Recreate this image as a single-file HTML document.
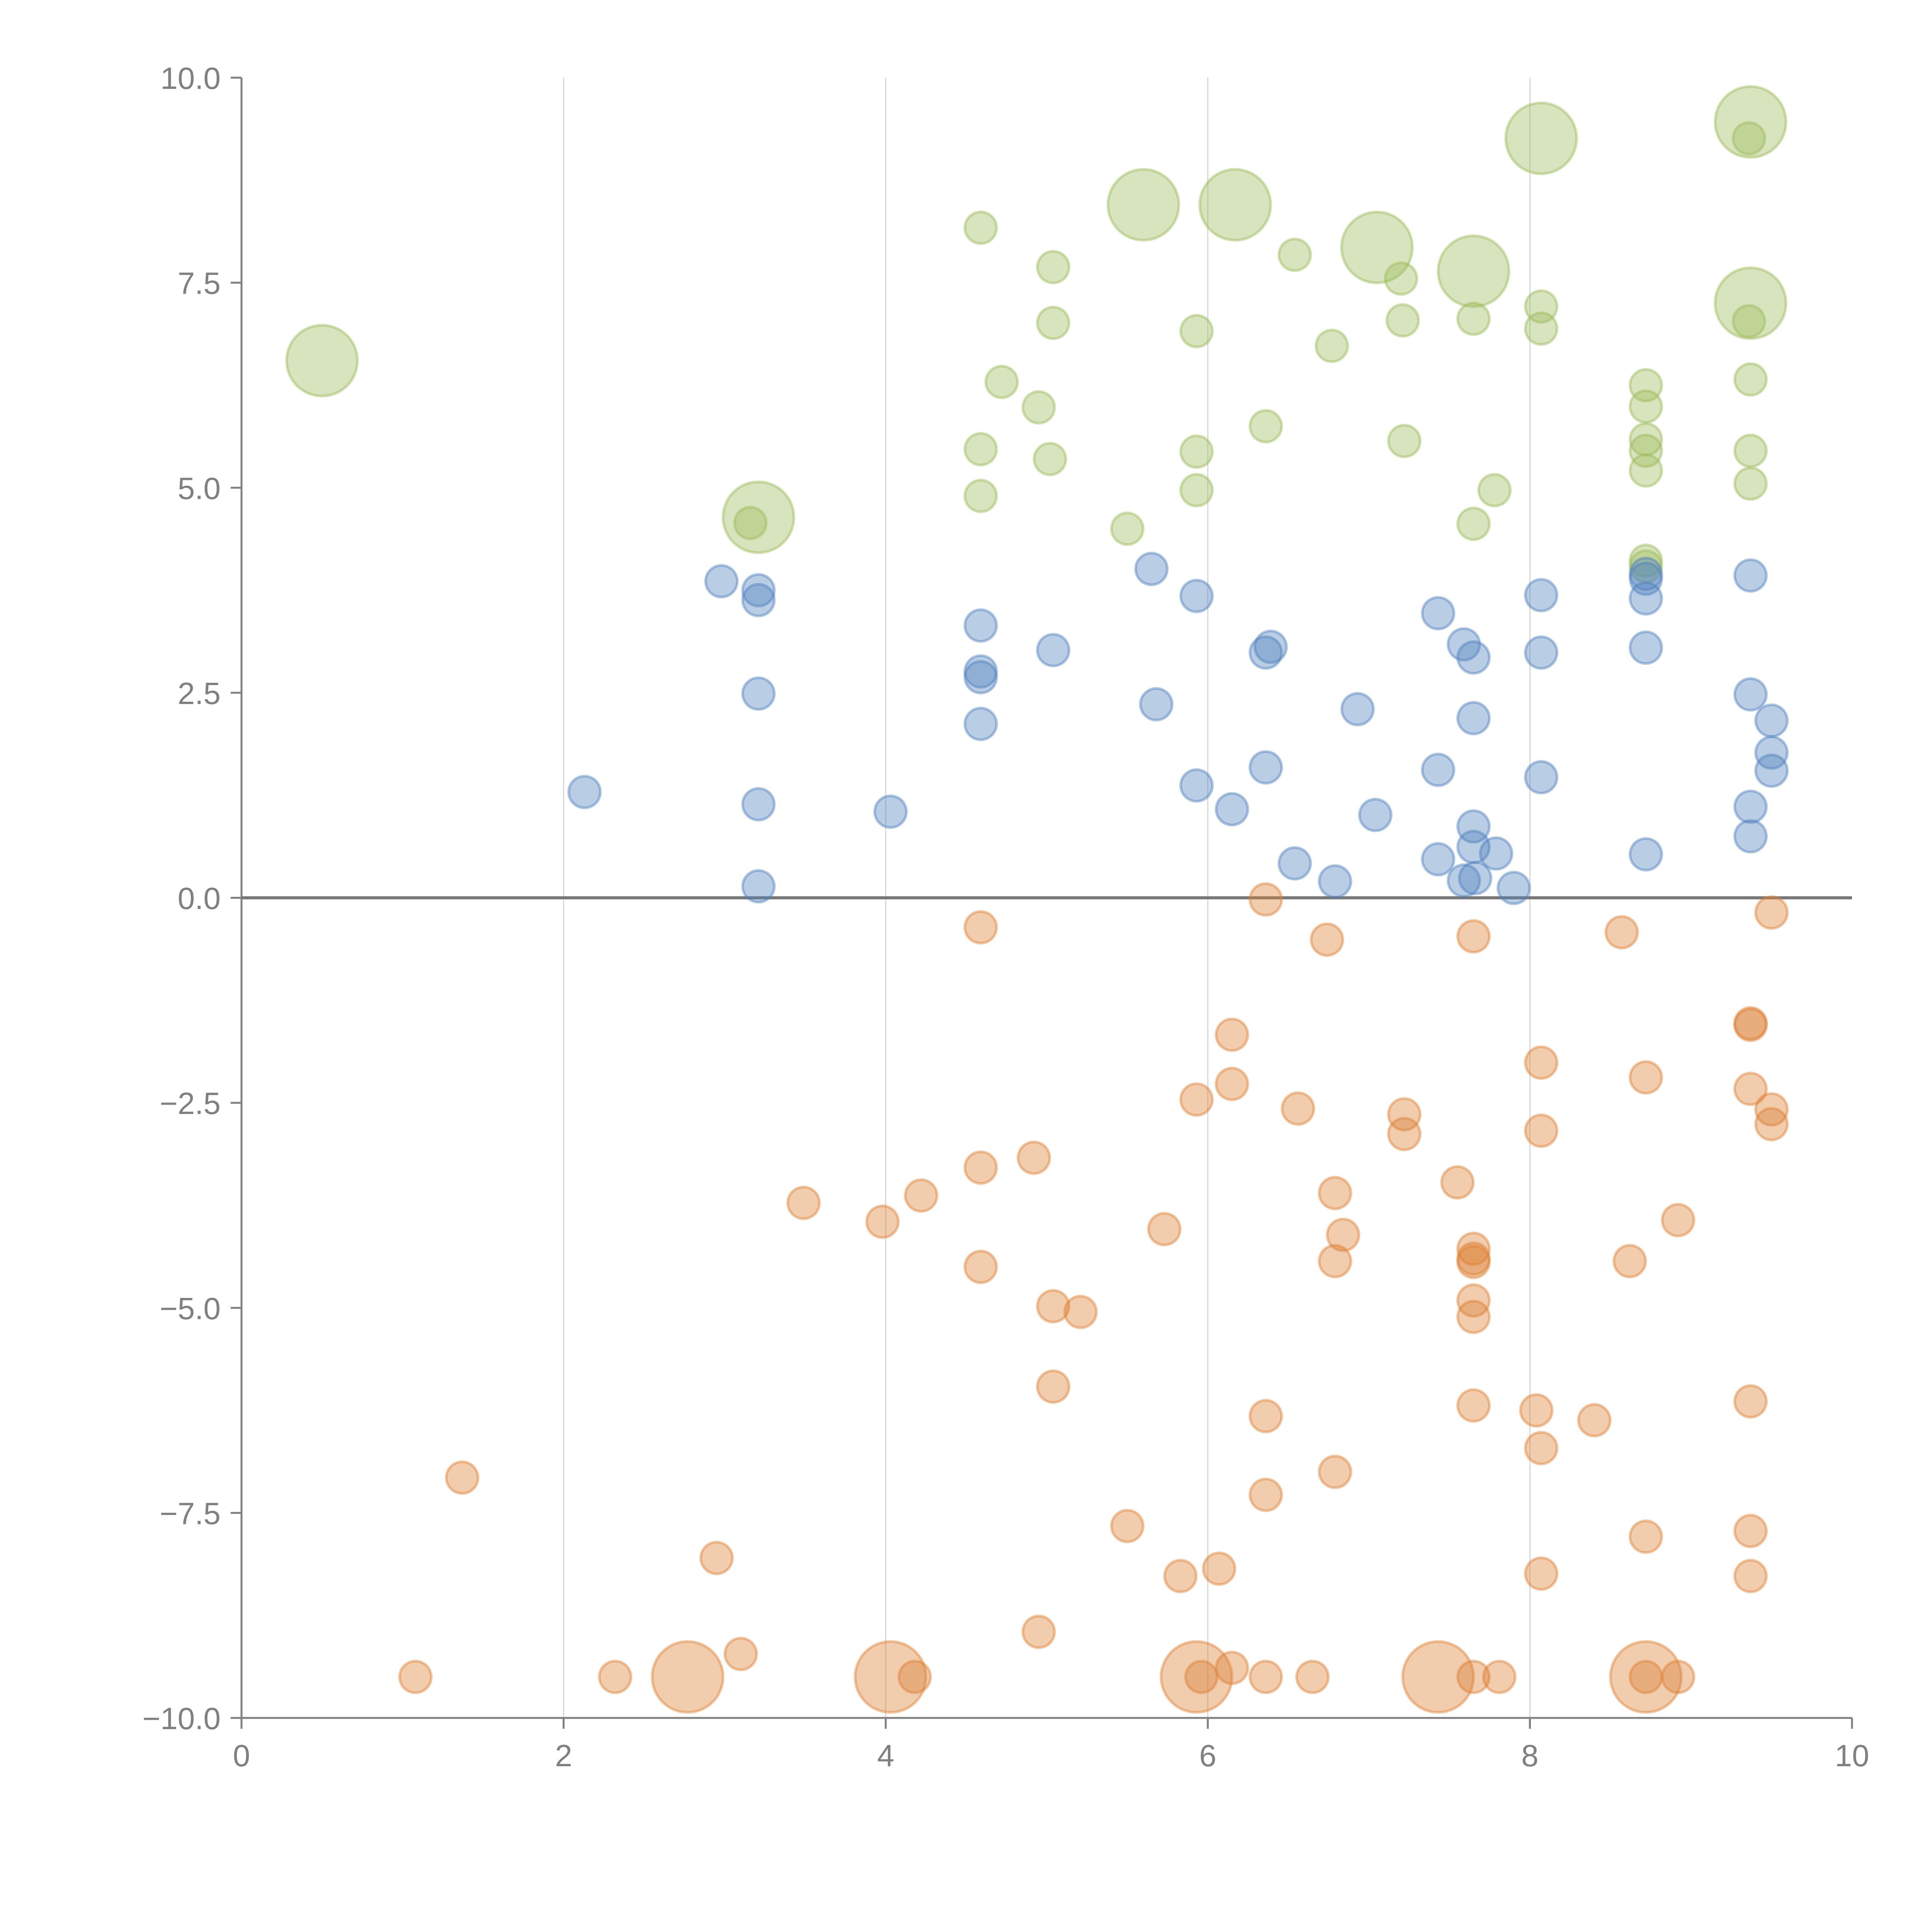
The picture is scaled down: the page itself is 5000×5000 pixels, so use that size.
<!DOCTYPE html>
<html><head><meta charset="utf-8"><style>
html,body{margin:0;padding:0;background:#fff;}
svg{display:block;}
text{font-family:"Liberation Sans",sans-serif;}
</style></head><body>
<svg id="chart" width="5000" height="5000" viewBox="0 0 5000 5000" xmlns="http://www.w3.org/2000/svg">
<rect width="5000" height="5000" fill="#fff"/>
<g id="grid"></g>
<g id="axes"></g>
<g id="marks"></g>
</svg>
<script>
const xTicks = [0, 2, 4, 6, 8, 10];
const xTickLabels = ["0", "2", "4", "6", "8", "10"];
const yTicks = [10, 7.5, 5, 2.5, 0, -2.5, -5, -7.5, -10];
const yTickLabels = ["10.0", "7.5", "5.0", "2.5", "0.0", "\u22122.5", "\u22125.0", "\u22127.5", "\u221210.0"];

const greenX = [0.5,3.21,3.16,4.59,5.6,6.17,5.04,5.04,6.54,7.05,7.65,7.2,7.21,7.65,8.07,9.37,9.36,9.37,9.36,8.07,8.07,5.93,6.77,4.72,4.95,6.36,4.59,5.02,5.93,7.22,8.72,8.72,8.72,8.72,8.72,9.37,9.37,9.37,4.59,5.93,7.78,7.65,5.5,8.72,8.72];
const greenY = [6.55,4.64,4.57,8.17,8.45,8.45,7.69,7.01,7.84,7.93,7.64,7.55,7.04,7.06,9.26,9.46,9.26,7.25,7.03,7.21,6.94,6.91,6.73,6.29,5.98,5.75,5.47,5.35,5.44,5.57,6.25,5.99,5.59,5.45,5.21,6.32,5.45,5.05,4.9,4.97,4.97,4.56,4.5,4.11,4.04];
const greenS = [5,5,1,1,5,5,1,1,1,5,5,1,1,1,5,5,1,5,1,1,1,1,1,1,1,1,1,1,1,1,1,1,1,1,1,1,1,1,1,1,1,1,1,1,1];

const blueX = [2.13,2.98,3.21,3.21,3.21,3.21,3.21,4.03,4.59,4.59,4.59,4.59,5.04,5.65,5.68,5.93,5.93,6.15,6.36,6.39,6.36,6.54,6.79,6.93,7.04,7.43,7.43,7.43,7.59,7.65,7.65,7.65,7.65,7.59,7.66,7.79,7.9,8.07,8.07,8.07,8.72,8.72,8.72,8.72,8.72,9.37,9.37,9.5,9.5,9.5,9.37,9.37];
const blueY = [1.29,3.86,3.75,3.63,2.49,1.14,0.14,1.05,3.32,2.76,2.69,2.12,3.02,4.01,2.36,3.68,1.37,1.08,2.99,3.06,1.59,0.42,0.2,2.3,1.01,3.47,1.56,0.47,3.09,2.93,2.19,0.87,0.62,0.21,0.24,0.54,0.12,3.69,2.99,1.47,3.95,3.89,3.65,3.05,0.53,3.93,2.48,2.16,1.77,1.55,1.11,0.75];
const blueS = blueX.map(() => 1);

const orangeX = [4.59,6.36,6.74,7.65,8.57,9.5,6.15,9.37,9.37,8.07,8.72,9.37,9.5,9.5,6.15,5.93,6.56,7.22,7.22,8.07,4.92,4.59,3.49,3.98,4.22,5.73,6.79,6.84,6.79,7.55,7.65,7.65,7.65,7.65,7.65,8.62,8.92,4.59,5.04,5.21,5.04,6.36,7.65,8.04,8.4,8.07,9.37,1.37,6.79,6.36,5.5,2.95,5.83,6.07,8.07,8.72,9.37,9.37,4.95,3.1,1.08,2.32,2.77,4.03,4.18,5.93,5.96,6.15,6.36,6.65,7.43,7.65,7.81,8.72,8.72,8.92];
const orangeY = [-0.36,-0.02,-0.51,-0.47,-0.42,-0.18,-1.67,-1.53,-1.55,-2.01,-2.19,-2.33,-2.58,-2.76,-2.27,-2.46,-2.57,-2.64,-2.88,-2.84,-3.17,-3.29,-3.72,-3.95,-3.63,-4.04,-3.6,-4.11,-4.43,-3.47,-4.28,-4.4,-4.44,-4.91,-5.11,-4.43,-3.93,-4.5,-4.98,-5.05,-5.96,-6.32,-6.19,-6.25,-6.37,-6.71,-6.14,-7.07,-7.0,-7.28,-7.66,-8.05,-8.27,-8.18,-8.24,-7.79,-7.72,-8.27,-8.95,-9.22,-9.5,-9.5,-9.5,-9.5,-9.5,-9.5,-9.5,-9.39,-9.5,-9.5,-9.5,-9.5,-9.5,-9.5,-9.5,-9.5];
const orangeS = [1,1,1,1,1,1,1,1,1,1,1,1,1,1,1,1,1,1,1,1,1,1,1,1,1,1,1,1,1,1,1,1,1,1,1,1,1,1,1,1,1,1,1,1,1,1,1,1,1,1,1,1,1,1,1,1,1,1,1,1,1,1,5,5,1,5,1,1,1,1,5,1,1,5,1,1];

const NS = "http://www.w3.org/2000/svg";
const X0 = 625, X1 = 4793, Y0 = 4446, Y1 = 201;
function xScale(v){ return X0 + (v - 0) / 10 * (X1 - X0); }
function yScale(v){ return Y0 - (v + 10) / 20 * (Y0 - Y1); }
function rScale(s){ return 41 * Math.sqrt(s); }
function mk(tag, attrs, parent){
  const e = document.createElementNS(NS, tag);
  for (const k in attrs) e.setAttribute(k, attrs[k]);
  parent.appendChild(e);
  return e;
}
const grid = document.getElementById('grid');
const axes = document.getElementById('axes');
const marks = document.getElementById('marks');

xTicks.forEach((t, i) => {
  if (t > 0 && t < 10) {
    const g = mk('line', {x1: xScale(t), x2: xScale(t), y1: Y1, y2: Y0, stroke: '#d6d6d6', 'stroke-width': 3}, grid);
    
    
  }
  const tk = mk('line', {x1: xScale(t), x2: xScale(t), y1: Y0, y2: Y0 + 28, stroke: '#808080', 'stroke-width': 5}, axes);
  
  
  const lb = mk('text', {x: xScale(t), y: Y0 + 125, 'text-anchor': 'middle', 'font-size': 80, fill: '#808080'}, axes);
  lb.textContent = xTickLabels[i];
  
  
});
yTicks.forEach((t, i) => {
  const tk = mk('line', {x1: X0 - 28, x2: X0, y1: yScale(t), y2: yScale(t), stroke: '#808080', 'stroke-width': 5}, axes);
  
  
  const lb = mk('text', {x: X0 - 54, y: yScale(t) + 29, 'text-anchor': 'end', 'font-size': 80, fill: '#808080'}, axes);
  lb.textContent = yTickLabels[i];
  
  
});
const ya = mk('line', {x1: X0, x2: X0, y1: Y1, y2: Y0, stroke: '#808080', 'stroke-width': 5}, axes);


const xa = mk('line', {x1: X0, x2: X1, y1: Y0, y2: Y0, stroke: '#808080', 'stroke-width': 5}, axes);



function drawSeries(xs, ys, ss, color, name){
  const g = mk('g', {}, marks);
  
  
  xs.forEach((v, i) => {
    const c = mk('circle', {cx: xScale(v), cy: yScale(ys[i]), r: rScale(ss[i]), fill: color, 'fill-opacity': 0.4, stroke: color, 'stroke-opacity': 0.45, 'stroke-width': 7}, g);
    
    
  });
}
drawSeries(greenX, greenY, greenS, '#9bbb59', 'green');
drawSeries(blueX, blueY, blueS, '#4f81bd', 'blue');
drawSeries(orangeX, orangeY, orangeS, '#dd8033', 'orange');

const zl = mk('line', {x1: X0, x2: X1, y1: yScale(0), y2: yScale(0), stroke: '#777777', 'stroke-width': 8}, axes);


</script>
</body></html>
